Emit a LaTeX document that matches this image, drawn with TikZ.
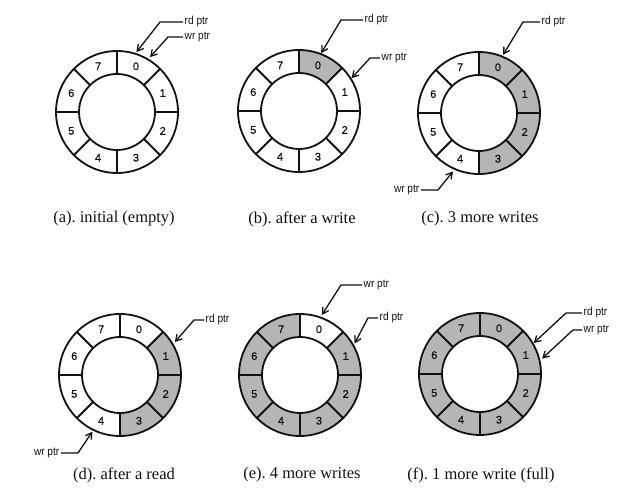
\documentclass[tikz,border=0pt]{standalone}
\usepackage{fontspec}
\setmainfont{Liberation Serif}
\newfontfamily\capfont{Liberation Serif}
\newfontfamily\ptrfont[FakeStretch=0.88]{Liberation Sans}
\newfontfamily\digitfont[FakeBold=0.6]{Liberation Sans}
\usetikzlibrary{arrows.meta,calc}
\definecolor{ink}{HTML}{111111}
\definecolor{slot}{HTML}{B5B5B5}
\frenchspacing

\begin{document}
\begin{tikzpicture}[x=1pt, y=1pt,
  ring/.style={draw=ink, line width=1.8pt},
  used/.style={fill=slot},
  digit/.style={font=\digitfont\fontsize{11}{12}\selectfont, text=ink, inner sep=0pt},
  tag/.style={font=\ptrfont\fontsize{11.5}{13}\selectfont, text=ink, inner sep=1.5pt},
  legend/.style={font=\capfont\fontsize{16.5}{19}\selectfont, text=ink},
  ptr/.style={draw=ink, line width=1.3pt, -{Straight Barb[length=6pt, width=7pt]}}]
\useasboundingbox (0,0) rectangle (639,493);
% ring centres
\coordinate (a) at (117,381);
\coordinate (b) at (299,382);
\coordinate (c) at (479,380);
\coordinate (d) at (120,118);
\coordinate (e) at (300,118);
\coordinate (f) at (480,119);
% occupied slots
\foreach \r/\k in {b/0, c/0, c/1, c/2, c/3, d/1, d/2, d/3, e/1, e/2, e/3, e/4, e/5, e/6, e/7,
    f/0, f/1, f/2, f/3, f/4, f/5, f/6, f/7}
  \fill[used, shift={(\r)}] (90-45*\k:61) arc[start angle=90-45*\k, end angle=45-45*\k, radius=61]
    -- (45-45*\k:38) arc[start angle=45-45*\k, end angle=90-45*\k, radius=38] -- cycle;
% the eight-slot buffers
\foreach \r in {a,b,c,d,e,f} {
  \draw[ring, shift={(\r)}] (0,0) circle[radius=61] (0,0) circle[radius=38];
  \foreach \t in {0,45,...,315} \draw[ring, shift={(\r)}] (\t:38) -- (\t:61);
  \foreach \k in {0,...,7} \node[digit] (\r\k) at ($(\r)+(67.5-45*\k:49.5)$) {\k};
}
% captions
\node[legend] (capa) at (114,274) {(a). initial (empty)};
\node[legend] (capb) at (302,274) {(b). after a write};
\node[legend] (capc) at (480,274) {(c). 3 more writes};
\node[legend] (capd) at (124,18) {(d). after a read};
\node[legend] (cape) at (302,18) {(e). 4 more writes};
\node[legend] (capf) at (481,18) {(f). 1 more write (full)};
% (a)
\node[tag, anchor=west] (a-rd) at (183,471) {rd ptr};
\node[tag, anchor=west] (a-wr) at (183,456) {wr ptr};
\coordinate (a-rdtip) at ($(a)+(72:63)$);
\coordinate (a-wrtip) at ($(a)+(59:64)$);
\draw[ptr] (a-rd.west) -- ++(-23,0) -- (a-rdtip);
\draw[ptr] (a-wr.west) -- ++(-15,0) -- (a-wrtip);
% (b)
\node[tag, anchor=west] (b-rd) at (363,473) {rd ptr};
\node[tag, anchor=west] (b-wr) at (380,435) {wr ptr};
\coordinate (b-rdtip) at ($(b)+(69:62)$);
\coordinate (b-wrtip) at ($(b)+(32:62)$);
\draw[ptr] (b-rd.west) -- ++(-22,0) -- (b-rdtip);
\draw[ptr] (b-wr.west) -- ++(-10,0) -- (b-wrtip);
% (c)
\node[tag, anchor=west] (c-rd) at (540,471) {rd ptr};
\node[tag, anchor=east] (c-wr) at (421,303) {wr ptr};
\coordinate (c-rdtip) at ($(c)+(67.5:63)$);
\coordinate (c-wrtip) at ($(c)+(246:64)$);
\draw[ptr] (c-rd.west) -- ++(-17,0) -- (c-rdtip);
\draw[ptr] (c-wr.east) -- ++(17,0) -- (c-wrtip);
% (d)
\node[tag, anchor=west] (d-rd) at (204,173) {rd ptr};
\node[tag, anchor=east] (d-wr) at (61,40) {wr ptr};
\coordinate (d-rdtip) at ($(d)+(31:64)$);
\coordinate (d-wrtip) at ($(d)+(244:63)$);
\draw[ptr] (d-rd.west) -- ++(-10,0) -- (d-rdtip);
\draw[ptr] (d-wr.east) -- ++(17,0) -- (d-wrtip);
% (e)
\node[tag, anchor=west] (e-wr) at (362,208) {wr ptr};
\node[tag, anchor=west] (e-rd) at (378,175) {rd ptr};
\coordinate (e-wrtip) at ($(e)+(70:64)$);
\coordinate (e-rdtip) at ($(e)+(30:63)$);
\draw[ptr] (e-wr.west) -- ++(-21,0) -- (e-wrtip);
\draw[ptr] (e-rd.west) -- ++(-10,0) -- (e-rdtip);
% (f)
\node[tag, anchor=west] (f-rd) at (582,180) {rd ptr};
\node[tag, anchor=west] (f-wr) at (582,163) {wr ptr};
\coordinate (f-rdtip) at ($(f)+(30:62)$);
\coordinate (f-wrtip) at ($(f)+(14:64)$);
\draw[ptr] (f-rd.west) -- ++(-16,0) -- (f-rdtip);
\draw[ptr] (f-wr.west) -- ++(-9,0) -- (f-wrtip);
\end{tikzpicture}
\end{document}
